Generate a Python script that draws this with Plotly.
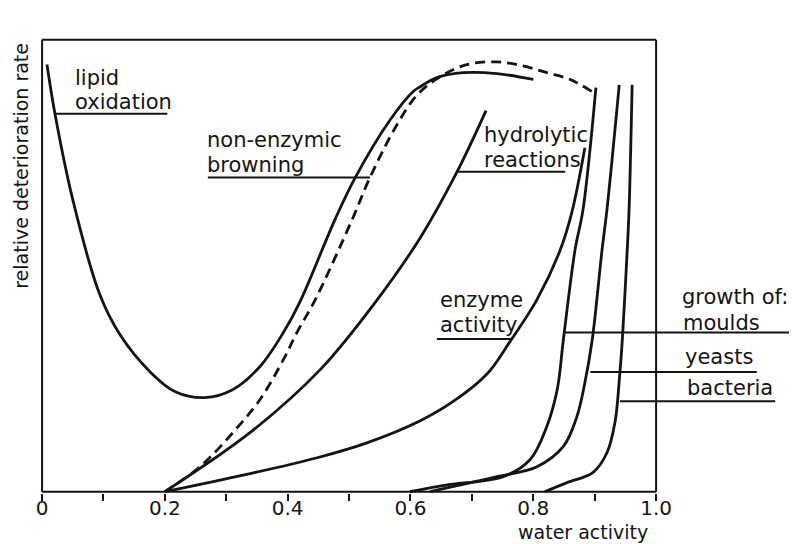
import plotly.graph_objects as go

# water activity (x) and relative rate (y, 0-100)
lipid_aw = [0.008, 0.021, 0.050, 0.094, 0.127, 0.176, 0.217, 0.265, 0.311, 0.355, 0.393,
            0.420, 0.477, 0.510, 0.567, 0.604, 0.616, 0.643, 0.686, 0.741, 0.800]
lipid_rate = [94.5, 83.6, 64.6, 43.6, 34.7, 26.5, 22.1, 20.8, 22.6, 27.7, 35.2,
              42.0, 60.2, 69.5, 82.3, 88.5, 89.6, 91.6, 92.7, 92.5, 91.2]

browning_aw = [0.200, 0.257, 0.311, 0.355, 0.393, 0.415, 0.445, 0.505, 0.534, 0.578, 0.611,
               0.648, 0.692, 0.741, 0.783, 0.822, 0.860, 0.896]
browning_rate = [0.0, 5.5, 13.1, 20.4, 29.2, 35.2, 42.5, 60.2, 69.5, 81.2, 87.8,
                 91.8, 94.5, 95.1, 94.2, 92.7, 91.2, 88.5]

hydrolytic_aw = [0.200, 0.339, 0.453, 0.546, 0.616, 0.676, 0.723]
hydrolytic_rate = [0.0, 13.1, 27.0, 42.5, 56.2, 70.8, 84.3]

enzyme_aw = [0.200, 0.339, 0.448, 0.529, 0.616, 0.669, 0.725, 0.762, 0.806, 0.844, 0.863, 0.884]
enzyme_rate = [0.0, 4.0, 7.5, 10.8, 15.7, 19.9, 26.1, 33.2, 42.5, 53.5, 61.9, 76.1]

moulds_aw = [0.599, 0.660, 0.751, 0.795, 0.822, 0.839, 0.849, 0.868, 0.881, 0.902]
moulds_rate = [0.0, 1.5, 3.3, 7.1, 14.4, 22.6, 33.6, 53.5, 62.4, 89.4]

yeasts_aw = [0.632, 0.741, 0.806, 0.849, 0.871, 0.884, 0.896, 0.912, 0.920, 0.940]
yeasts_rate = [0.0, 3.3, 5.5, 10.0, 16.6, 24.1, 33.6, 53.5, 62.4, 90.0]

bacteria_aw = [0.819, 0.855, 0.897, 0.920, 0.933, 0.941, 0.945, 0.953, 0.956, 0.961]
bacteria_rate = [0.0, 2.0, 4.2, 8.6, 15.3, 26.3, 33.6, 53.5, 62.4, 90.0]

tick_vals = [0.0, 0.1, 0.2, 0.3, 0.4, 0.5, 0.6, 0.7, 0.8, 0.9, 1.0]
tick_text = ["0", "", "0.2", "", "0.4", "", "0.6", "", "0.8", "", "1.0"]

INK = "#141414"
FONT = "DejaVu Sans"

fig = go.Figure()

curves = [
    (lipid_aw, lipid_rate, "solid"),
    (browning_aw, browning_rate, "10px,6px"),
    (hydrolytic_aw, hydrolytic_rate, "solid"),
    (enzyme_aw, enzyme_rate, "solid"),
    (moulds_aw, moulds_rate, "solid"),
    (yeasts_aw, yeasts_rate, "solid"),
    (bacteria_aw, bacteria_rate, "solid"),
]
for xs, ys, dash in curves:
    fig.add_trace(go.Scatter(
        x=xs, y=ys, mode="lines",
        line=dict(color=INK, width=2.8, dash=dash, shape="spline", smoothing=1.0),
        hoverinfo="skip", showlegend=False,
    ))

# leader lines (underlines pointing at each curve)
leaders = [
    (0.021, 0.204, 83.6),
    (0.270, 0.534, 69.5),
    (0.676, 0.852, 70.8),
    (0.643, 0.765, 33.8),
    (0.849, 1.223, 35.2),
    (0.893, 1.164, 26.5),
    (0.941, 1.194, 20.0),
]
for x0, x1, y in leaders:
    fig.add_shape(type="line", x0=x0, x1=x1, y0=y, y1=y, xref="x", yref="y",
                  line=dict(color=INK, width=2))

# frame
for x0, y0, x1, y1 in [(0, 0, 1, 0), (0, 0, 0, 100), (0, 100, 1, 100), (1, 0, 1, 100)]:
    fig.add_shape(type="line", x0=x0, y0=y0, x1=x1, y1=y1, xref="x", yref="y",
                  line=dict(color=INK, width=2))

labels = [
    ("lipid", 0.050, 91.6),
    ("oxidation", 0.050, 86.2),
    ("non-enzymic", 0.265, 77.9),
    ("browning", 0.265, 72.3),
    ("hydrolytic", 0.717, 79.0),
    ("reactions", 0.717, 73.3),
    ("enzyme", 0.645, 42.4),
    ("activity", 0.645, 36.9),
    ("growth of:", 1.039, 43.0),
    ("moulds", 1.041, 37.3),
    ("yeasts", 1.044, 29.9),
    ("bacteria", 1.047, 23.0),
]
for text, x, y in labels:
    fig.add_annotation(text=text, x=x, y=y, xref="x", yref="y", xanchor="left",
                       yanchor="middle", showarrow=False,
                       font=dict(family=FONT, size=21, color=INK))

fig.add_annotation(text="water activity", x=0.881, y=-0.086, xref="x", yref="paper",
                   xanchor="center", yanchor="middle",
                   showarrow=False, font=dict(family=FONT, size=19, color=INK))
fig.add_annotation(text="relative deterioration rate", x=-0.023, y=72, xref="paper", yref="y",
                   xanchor="center", yanchor="middle",
                   textangle=-90, showarrow=False, font=dict(family=FONT, size=19, color=INK))

# page body adds an 8px offset, so the figure is 8px smaller than the window
fig.update_layout(
    width=789, height=536,
    margin=dict(l=31, r=0, t=29, b=51),
    paper_bgcolor="white", plot_bgcolor="white",
    showlegend=False,
    xaxis=dict(range=[-0.005, 1.2295], showgrid=False, zeroline=False, showline=False,
               tickvals=tick_vals, ticktext=tick_text, ticks="outside", ticklen=7,
               tickwidth=2, tickcolor=INK, ticklabelstandoff=-10,
               tickfont=dict(family=FONT, size=20, color=INK)),
    yaxis=dict(range=[-0.3, 100.6], showgrid=False, zeroline=False, showline=False,
               showticklabels=False),
)

fig.write_html("out.html")
